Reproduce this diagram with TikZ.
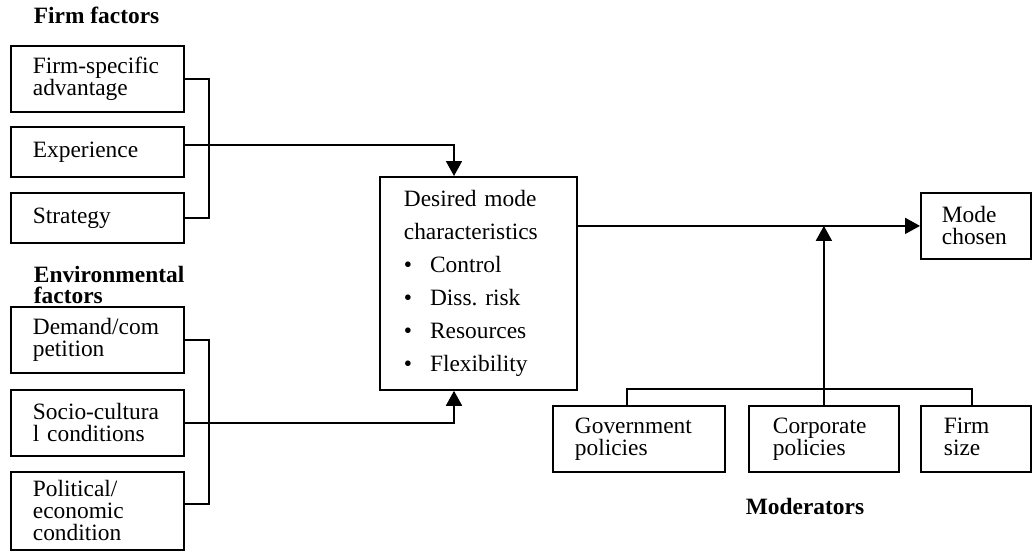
\documentclass[tikz,border=0pt]{standalone}
\usepackage{fontspec}
\setmainfont{Liberation Serif}
\usetikzlibrary{arrows.meta,calc}
\frenchspacing

\begin{document}
\begin{tikzpicture}[x=0.5pt,y=-0.5pt,line width=0.9pt,
  box/.style={draw,rectangle,anchor=north west,align=left,inner ysep=2pt,
    font=\fontsize{11.7}{11}\selectfont},
  head/.style={font=\fontsize{11.7}{10.5}\selectfont\bfseries,align=left,inner sep=0pt},
  >={Triangle[length=7.5pt,width=8pt]}]
  \useasboundingbox (0,0) rectangle (1033,552);
  % firm factors
  \node[head,anchor=west] (firmhd) at (33,15) {Firm factors};
  \node[box,text width=64.5pt,inner xsep=11pt,minimum height=33pt] (fsa) at (10,45) {Firm-specific\\advantage};
  \node[box,text width=64.5pt,inner xsep=11pt,minimum height=25pt] (exp) at (10,126) {Experience};
  \node[box,text width=64.5pt,inner xsep=11pt,minimum height=25pt] (strat) at (10,192) {Strategy};
  % environmental factors
  \node[head,anchor=west] (envhd) at (33,285) {Environmental\\factors};
  \node[box,text width=64.5pt,inner xsep=11pt,minimum height=33pt] (dem) at (10,306) {Demand/com\\petition};
  \node[box,text width=64.5pt,inner xsep=11pt,minimum height=33pt] (soc) at (10,389) {Socio-cultura\\l conditions};
  \node[box,text width=64.5pt,inner xsep=11pt,minimum height=39pt] (pol) at (10,471) {Political/\\economic\\condition};
  % centre
  \node[box,text width=74.5pt,inner xsep=12pt,minimum height=106.5pt,
    font=\fontsize{11.7}{16.5}\selectfont] (des) at (379,176)
    {Desired mode\\characteristics\\\textbullet\hspace{9pt}Control\\\textbullet\hspace{9pt}Diss. risk\\\textbullet\hspace{9pt}Resources\\\textbullet\hspace{9pt}Flexibility};
  \node[box,text width=34pt,inner xsep=10.5pt,minimum height=33pt] (mode) at (920,192) {Mode\\chosen};
  % moderators
  \node[box,text width=64pt,inner xsep=11pt,minimum height=33pt] (gov) at (552,405) {Government\\policies};
  \node[box,text width=51pt,inner xsep=12pt,minimum height=33pt] (corp) at (748,405) {Corporate\\policies};
  \node[box,text width=32pt,inner xsep=11.5pt,minimum height=33pt] (fsz) at (920,405) {Firm\\size\vphantom{p}};
  \node[head] (modhd) at (805,506) {Moderators};

  \draw (fsa.east) -- ++(24,0) |- (strat.east);
  \draw[->] ($(exp.east)+(0,-7)$) -| ($(des.north west)+(75,0)$);
  \draw (dem.east) -- ++(24,0) |- ($(pol.east)+(0,-7)$);
  \draw[->] (soc.east) -| ($(des.south west)+(75,0)$);
  \draw[->] (des.east |- mode.west) -- (mode.west);
  \draw[->] (corp.north) -- (corp.north |- mode.west);
  \draw ($(gov.north)+(-12,0)$) -- ++(0,-16) -| ($(fsz.north)+(-4,0)$);
\end{tikzpicture}
\end{document}
